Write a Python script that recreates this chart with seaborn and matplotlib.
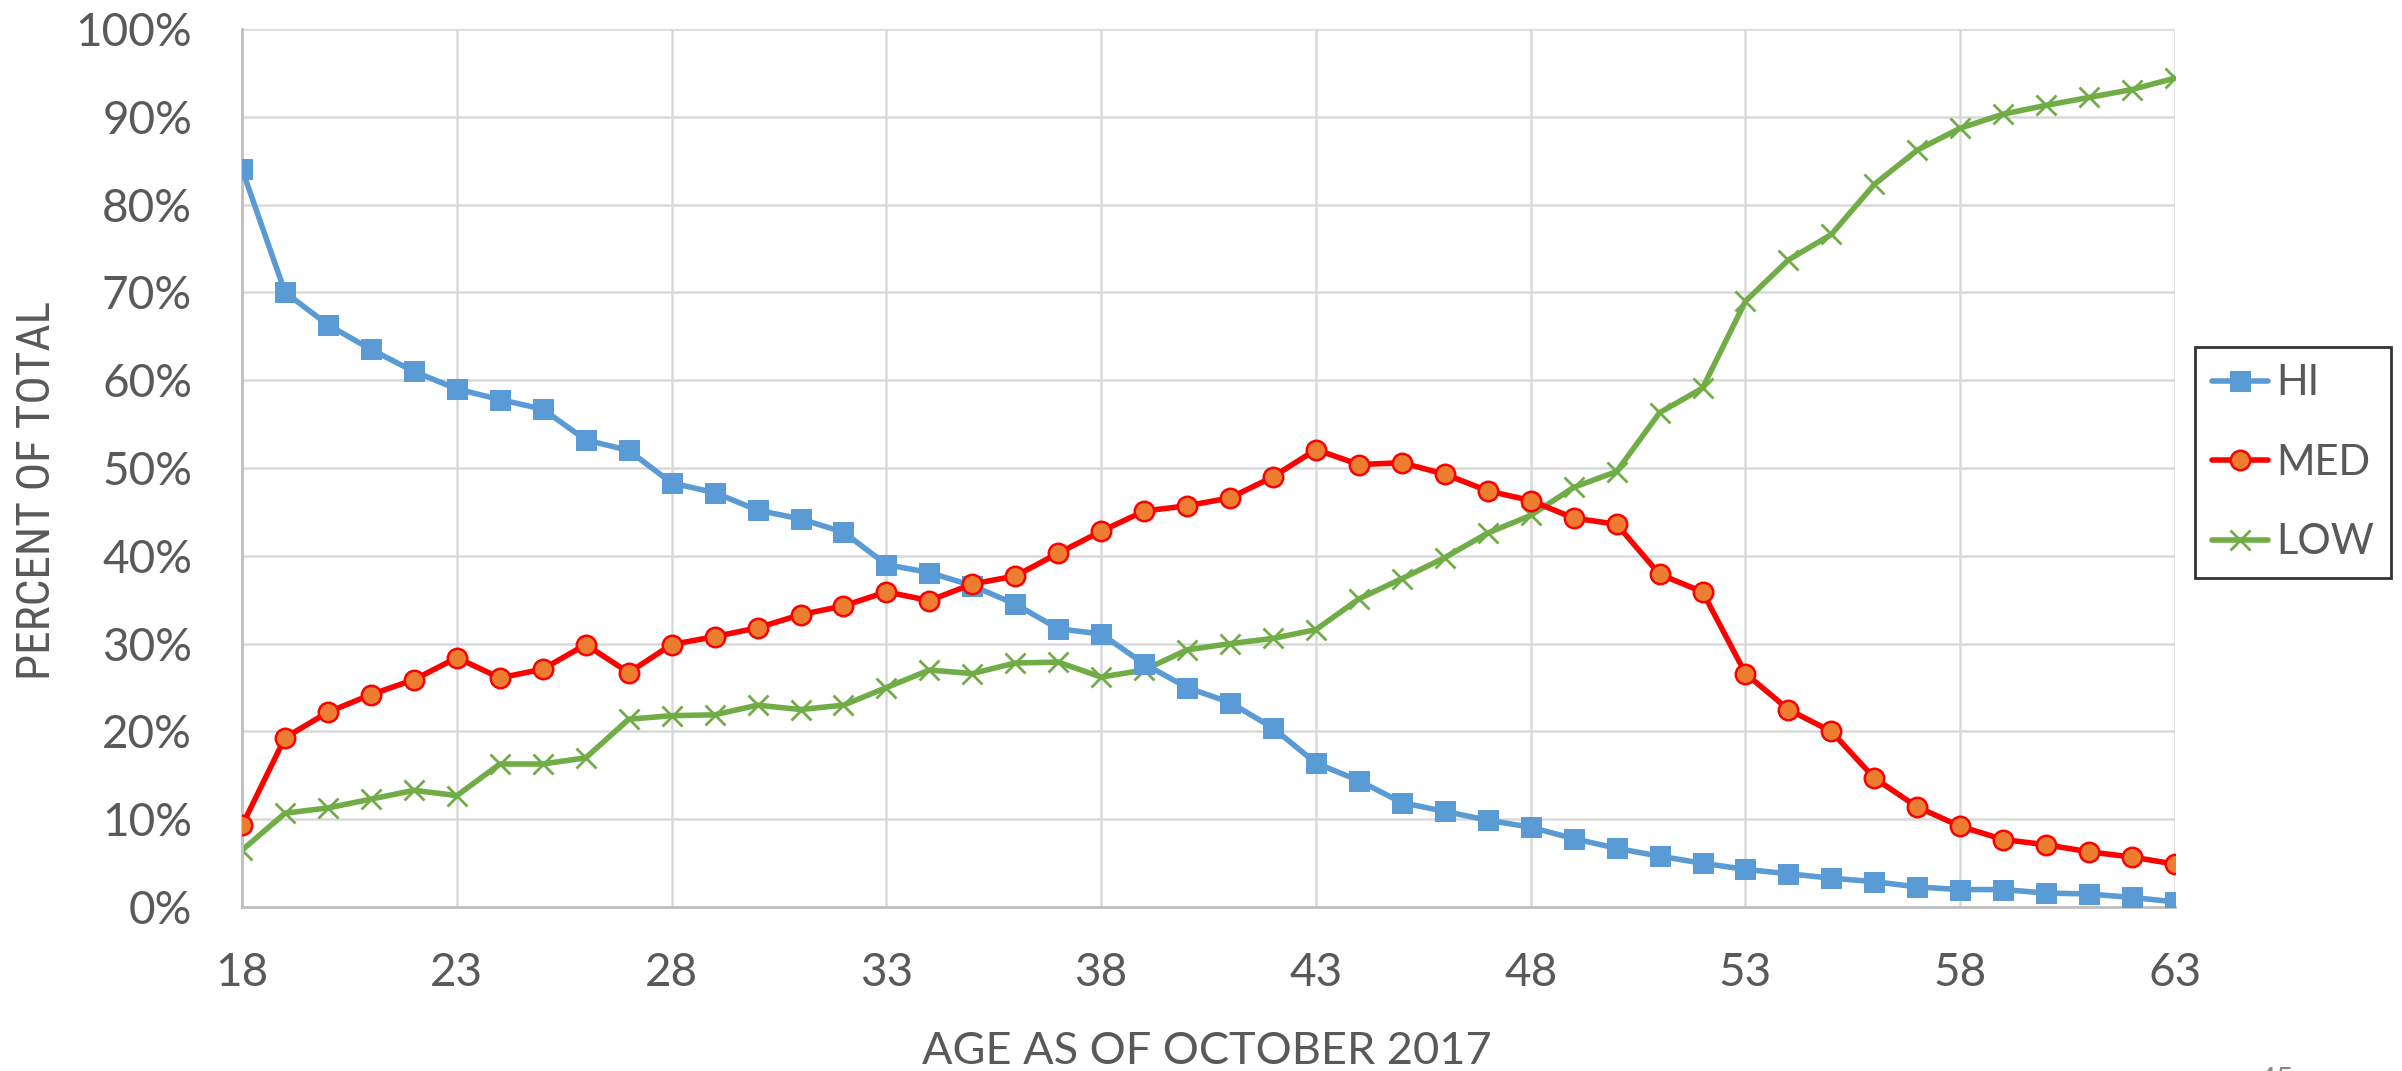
import matplotlib
matplotlib.use("Agg")
import matplotlib.pyplot as plt
from matplotlib import font_manager
import seaborn as sns
import pandas as pd
from matplotlib.ticker import PercentFormatter, MultipleLocator

ages = list(range(18, 64))
hi = [84.0, 70.0, 66.3, 63.5, 61.0, 59.0, 57.8, 56.7, 53.2, 52.0,
      48.3, 47.2, 45.2, 44.2, 42.7, 39.0, 38.1, 36.6, 34.5, 31.7,
      31.1, 27.7, 25.0, 23.3, 20.4, 16.4, 14.4, 11.9, 10.9, 9.9,
      9.1, 7.8, 6.7, 5.8, 5.0, 4.3, 3.8, 3.3, 2.9, 2.3,
      2.0, 2.0, 1.6, 1.5, 1.1, 0.6]
med = [9.3, 19.3, 22.2, 24.2, 25.9, 28.4, 26.1, 27.1, 29.9, 26.7,
       29.9, 30.8, 31.8, 33.3, 34.3, 35.9, 34.9, 36.8, 37.7, 40.3,
       42.8, 45.1, 45.7, 46.6, 49.0, 52.1, 50.4, 50.6, 49.3, 47.4,
       46.3, 44.3, 43.6, 37.9, 35.9, 26.6, 22.5, 20.0, 14.7, 11.4,
       9.2, 7.7, 7.1, 6.3, 5.7, 4.9]
low = [6.5, 10.7, 11.3, 12.3, 13.3, 12.7, 16.3, 16.3, 17.0, 21.4,
       21.8, 21.9, 23.0, 22.5, 23.0, 25.0, 27.0, 26.6, 27.8, 27.9,
       26.2, 27.0, 29.3, 30.0, 30.6, 31.6, 35.1, 37.4, 39.8, 42.6,
       44.6, 47.8, 49.6, 56.3, 59.1, 69.0, 73.7, 76.6, 82.3, 86.2,
       88.7, 90.3, 91.3, 92.2, 93.1, 94.4]
series_names = ["HI", "MED", "LOW"]
x_ticks = [18, 23, 28, 33, 38, 43, 48, 53, 58, 63]

sns.set_theme(style="white")
available = {f.name for f in font_manager.fontManager.ttflist}
main_font = "Lato" if "Lato" in available else "DejaVu Sans"
narrow_font = main_font
for cand in ["Liberation Sans Narrow", "Roboto Condensed", "Open Sans Condensed"]:
    if cand in available:
        narrow_font = cand
        break
plt.rcParams['font.family'] = [main_font, 'DejaVu Sans']

fig = plt.figure(figsize=(24.02, 10.71), dpi=100)
ax = fig.add_axes([0.1008, 0.153, 0.8047, 0.820])

txt = "#595959"
df_hi = pd.DataFrame({"age": ages, "pct": hi})
df_med = pd.DataFrame({"age": ages, "pct": med})
df_low = pd.DataFrame({"age": ages, "pct": low})

sns.lineplot(data=df_hi, x="age", y="pct", ax=ax, color="#5B9BD5", lw=4.0,
             marker="s", markersize=14, markeredgecolor="#5B9BD5",
             markerfacecolor="#5B9BD5", label=series_names[0], zorder=3)
sns.lineplot(data=df_med, x="age", y="pct", ax=ax, color="#FF0000", lw=4.0,
             marker="o", markersize=14, markeredgecolor="#FF0000",
             markeredgewidth=1.8, markerfacecolor="#ED7D31",
             label=series_names[1], zorder=4)
sns.lineplot(data=df_low, x="age", y="pct", ax=ax, color="#70AD47", lw=4.0,
             marker="x", markersize=14, markeredgecolor="#70AD47",
             markeredgewidth=2.0, label=series_names[2], zorder=2)

ax.set_xlim(18, 63)
ax.set_ylim(0, 100)
ax.set_xticks(x_ticks)
ax.yaxis.set_major_locator(MultipleLocator(10))
ax.yaxis.set_major_formatter(PercentFormatter(decimals=0))
ax.grid(True, color="#D9D9D9", lw=1.8)
ax.set_axisbelow(True)
for s in ["top", "right"]:
    ax.spines[s].set_visible(False)
for s in ["left", "bottom"]:
    ax.spines[s].set_color("#BFBFBF")
    ax.spines[s].set_linewidth(2)
ax.tick_params(axis="both", length=0, labelsize=33, labelcolor=txt)
ax.tick_params(axis="y", pad=36)
ax.tick_params(axis="x", pad=32)
ax.set_xlabel("")
ax.set_ylabel("")
ax.margins(0)

fig.text(0.0154, 0.5425, "PERCENT OF TOTAL", rotation=90, ha="center", va="center",
         fontsize=34, color=txt, family=[narrow_font, 'DejaVu Sans'])
fig.text(0.5025, 0.018, "AGE AS OF OCTOBER 2017", ha="center", va="center",
         fontsize=32.5, color=txt)
fig.text(0.9475, 0.0047, "45", ha="center", va="top", fontsize=22, color="#888888")

leg = ax.legend(loc="center left", bbox_to_anchor=(1.0103, 0.506), frameon=True,
                fontsize=30, handlelength=1.35, labelspacing=1.0, borderpad=0.4,
                handletextpad=0.2, fancybox=False, borderaxespad=0)
leg.get_frame().set_edgecolor("black")
leg.get_frame().set_linewidth(2)
for t in leg.get_texts():
    t.set_color(txt)

fig.savefig("out.png", dpi=100)
